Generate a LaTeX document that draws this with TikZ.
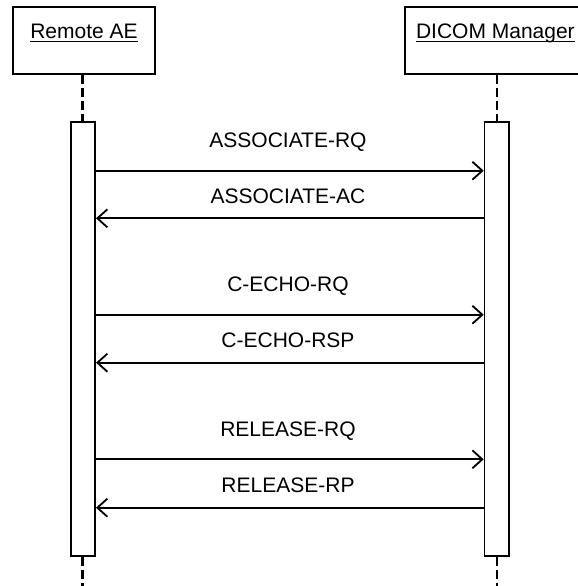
\documentclass[tikz,border=0pt]{standalone}
\usepackage{fontspec}
\setmainfont{Liberation Sans}
\usetikzlibrary{arrows.meta}
\newcommand\objname[1]{\underline{\smash{#1}}}
\tikzset{
  objbox/.style={draw, line width=0.9pt, minimum height=33.5pt, inner sep=0pt,
    font=\fontsize{10.5}{12}\selectfont},
  actbar/.style={draw, line width=0.9pt, minimum width=12.2pt, minimum height=217pt,
    inner sep=0pt},
  lifeleft/.style={line width=1.5pt, dash pattern=on 4.5pt off 2pt},
  liferight/.style={line width=1pt, dash pattern=on 4.5pt off 2pt},
  msg/.style={line width=0.9pt, -{Straight Barb[length=5pt,width=9pt,line width=0.9pt]}},
  msglabel/.style={anchor=base, inner sep=0pt, font=\fontsize{10.5}{12}\selectfont}
}
\begin{document}
\begin{tikzpicture}[x=0.5pt,y=-0.5pt]
\clip (0,0) rectangle (578,586);
%
\node[objbox, minimum width=71pt] (remote) at (84,40.5) {\objname{Remote AE}};
\node[objbox, minimum width=90pt, anchor=west] (manager) at (404.5,40.5) {\objname{DICOM Manager}};
%
\node[actbar] (remotebar) at (82.9,339) {};
\node[actbar] (managerbar) at (496.8,339) {};
\coordinate (remoteend) at (82.9,592);
\coordinate (managerend) at (496.8,592);
%
\draw[lifeleft] (remote.south -| remotebar) -- (remotebar.north);
\draw[lifeleft] (remotebar.south) -- (remoteend);
\draw[liferight] (manager.south -| managerbar) -- (managerbar.north);
\draw[liferight] (managerbar.south) -- (managerend);
%
\node[msglabel] (assocrq) at (288,147) {ASSOCIATE-RQ};
\draw[msg] (remotebar.east |- 0,170.7) -- (managerbar.west |- 0,170.7);
%
\node[msglabel] (assocac) at (288,203.5) {ASSOCIATE-AC};
\draw[msg] (managerbar.west |- 0,218.3) -- (remotebar.east |- 0,218.3);
%
\node[msglabel] (echorq) at (288,291.5) {C-ECHO-RQ};
\draw[msg] (remotebar.east |- 0,314.7) -- (managerbar.west |- 0,314.7);
%
\node[msglabel] (echorsp) at (288,347.5) {C-ECHO-RSP};
\draw[msg] (managerbar.west |- 0,362.7) -- (remotebar.east |- 0,362.7);
%
\node[msglabel] (releaserq) at (288,436) {RELEASE-RQ};
\draw[msg] (remotebar.east |- 0,459.3) -- (managerbar.west |- 0,459.3);
%
\node[msglabel] (releaserp) at (288,492.7) {RELEASE-RP};
\draw[msg] (managerbar.west |- 0,507.7) -- (remotebar.east |- 0,507.7);
\end{tikzpicture}
\end{document}
